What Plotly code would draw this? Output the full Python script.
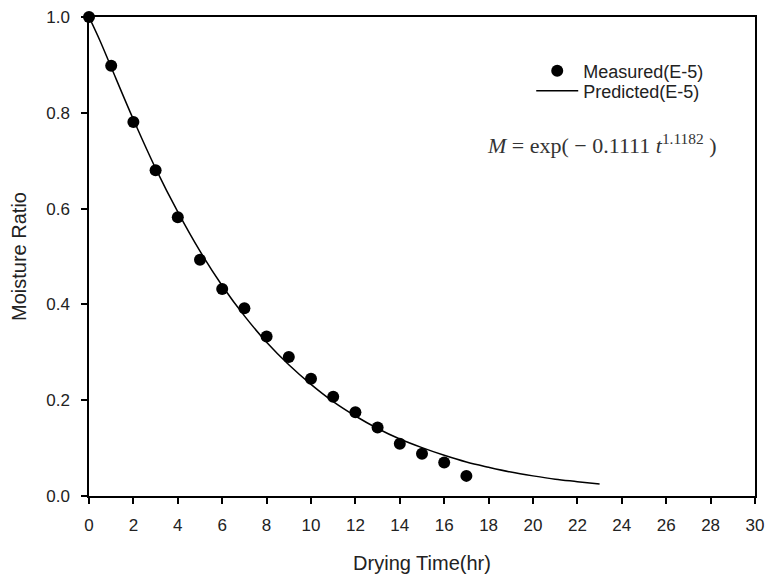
import plotly.graph_objects as go

# Measured data (E-5)
time_measured = [0, 1, 2, 3, 4, 5, 6, 7, 8, 9, 10, 11, 12, 13, 14, 15, 16, 17]
mr_measured = [1.0, 0.898, 0.781, 0.680, 0.582, 0.493, 0.432, 0.392, 0.333, 0.290,
               0.245, 0.207, 0.175, 0.143, 0.109, 0.088, 0.070, 0.042]

# Predicted curve (E-5)
time_pred = [0, 0.5, 1, 2, 3, 4, 5, 6, 7, 8, 9, 10, 11, 12, 13, 14, 15, 16, 17, 18,
             19, 20, 21, 22, 23]
mr_pred = [1.0, 0.950, 0.895, 0.786, 0.684, 0.593, 0.511, 0.439, 0.376, 0.321, 0.274,
           0.233, 0.197, 0.167, 0.141, 0.119, 0.101, 0.085, 0.071, 0.060, 0.050,
           0.042, 0.035, 0.030, 0.025]

x_ticks = list(range(0, 31, 2))
y_ticks = [0.0, 0.2, 0.4, 0.6, 0.8, 1.0]

TXT = "#222"
fig = go.Figure()
fig.add_trace(go.Scatter(
    x=time_measured, y=mr_measured, mode="markers", name="Measured(E-5)",
    marker=dict(color="black", size=12), cliponaxis=False, legend="legend",
    showlegend=True))
fig.add_trace(go.Scatter(
    x=time_pred, y=mr_pred, mode="lines", name="Predicted(E-5)",
    line=dict(color="black", width=1.5, shape="spline"), legend="legend2",
    showlegend=True))

fig.add_annotation(
    x=0.946, y=0.735, xref="paper", yref="paper", xanchor="right", yanchor="middle",
    text="<i>M</i> = exp( − 0.1111 <i>t</i><sup>1.1182</sup> )", showarrow=False,
    font=dict(family="Liberation Serif", size=22, color="#333"))

axis_common = dict(showline=True, linecolor="black", linewidth=1.5, mirror=True,
                   ticks="outside", ticklen=6, tickwidth=1.5, tickcolor="black",
                   showgrid=False, zeroline=False, automargin=False,
                   ticklabeloverflow="allow",
                   tickfont=dict(family="Liberation Sans", size=17, color=TXT),
                   title_font=dict(family="Liberation Sans", size=20, color=TXT))

fig.update_xaxes(range=[0, 30], tickvals=x_ticks, title_text="Drying Time(hr)",
                 ticklabelstandoff=7, title_standoff=22, **axis_common)
fig.update_yaxes(range=[0, 1.0], tickvals=y_ticks, tickformat=".1f",
                 ticklabelstandoff=8, title_text="Moisture Ratio", title_standoff=14,
                 **axis_common)

leg_common = dict(xanchor="left", yanchor="middle", bgcolor="rgba(0,0,0,0)",
                  itemwidth=42,
                  font=dict(family="Liberation Sans", size=18, color=TXT))
fig.update_layout(
    width=767, height=575, plot_bgcolor="white", paper_bgcolor="white",
    margin=dict(l=89, r=12, t=17, b=79), showlegend=True,
    legend=dict(x=0.664, y=(496 - 71) / 479, **leg_common),
    legend2=dict(x=0.664, y=(496 - 91) / 479, **leg_common),
)

fig.write_html(
    "out.html", config={"displayModeBar": False},
    post_script="document.body.style.margin='0';document.body.style.overflow='hidden';")
